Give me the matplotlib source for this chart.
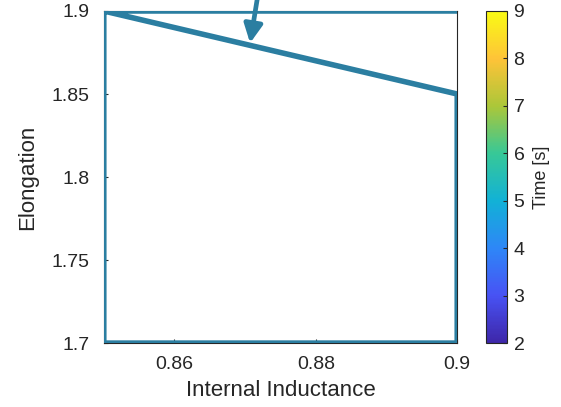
import numpy as np
import matplotlib.pyplot as plt
from matplotlib.colors import LinearSegmentedColormap, Normalize
from matplotlib.cm import ScalarMappable

plt.rcParams['font.family'] = ['Liberation Sans', 'DejaVu Sans']

# trajectory in (internal inductance, elongation) space
li_path = [0.85, 0.90, 0.90, 0.85, 0.85, 0.90]
kappa_path = [1.90, 1.85, 1.70, 1.70, 1.90, 1.90]

x_ticks = [0.86, 0.88, 0.90]
x_labels = ['0.86', '0.88', '0.9']
y_ticks = [1.70, 1.75, 1.80, 1.85, 1.90]
y_labels = ['1.7', '1.75', '1.8', '1.85', '1.9']
time_ticks = [2, 3, 4, 5, 6, 7, 8, 9]

# arrow marking the direction of travel
arrow_tail = (0.8718, 1.9096)
arrow_head = (0.8707, 1.8807)

parula = LinearSegmentedColormap.from_list('parula', [
    (0.2422, 0.1504, 0.6603),
    (0.2810, 0.3228, 0.9578),
    (0.1786, 0.5289, 0.9682),
    (0.0689, 0.6948, 0.8394),
    (0.2161, 0.7843, 0.5923),
    (0.6720, 0.7793, 0.2227),
    (0.9970, 0.7659, 0.2199),
    (0.9769, 0.9839, 0.0805),
])
line_color = '#2b7ea1'
ink = '#262626'

fig = plt.figure(figsize=(5.61, 4.07), dpi=100)
ax = fig.add_axes([0.185, 0.157, 0.630, 0.816])

ax.plot(li_path, kappa_path, color=line_color, lw=4.0, solid_capstyle='butt', zorder=3)
ax.annotate('', xy=arrow_head, xytext=arrow_tail, annotation_clip=False,
            arrowprops=dict(arrowstyle='-|>,head_length=1.1,head_width=0.55',
                            color=line_color, lw=3.4, shrinkA=0, shrinkB=0))

ax.set_xlim(0.85, 0.90)
ax.set_ylim(1.70, 1.90)
ax.set_xticks(x_ticks)
ax.set_xticklabels(x_labels)
ax.set_yticks(y_ticks)
ax.set_yticklabels(y_labels)
ax.tick_params(direction='in', length=3, labelsize=14, colors=ink)
ax.tick_params(axis='y', pad=10)
ax.tick_params(axis='x', pad=9)
for side in ax.spines:
    ax.spines[side].set_color(ink)
    ax.spines[side].set_linewidth(0.8)
ax.set_xlabel('Internal Inductance', fontsize=16, color=ink, labelpad=5)
ax.set_ylabel('Elongation', fontsize=16, color=ink, labelpad=10)

cax = fig.add_axes([0.866, 0.157, 0.037, 0.816])
sm = ScalarMappable(norm=Normalize(2, 9), cmap=parula)
cb = fig.colorbar(sm, cax=cax, ticks=time_ticks)
cb.outline.set_edgecolor(ink)
cb.outline.set_linewidth(0.8)
cb.ax.tick_params(direction='in', length=3, labelsize=14, colors=ink, pad=5)
cb.set_label('Time [s]', fontsize=13, color=ink, labelpad=6)

fig.savefig('out.png', dpi=100)
